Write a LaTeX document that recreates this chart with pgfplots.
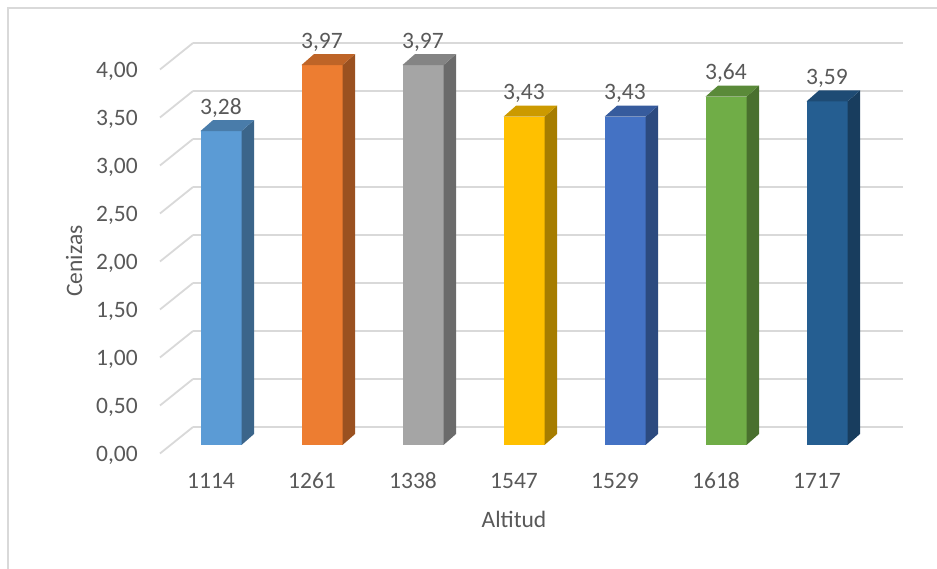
\documentclass[border=0pt]{standalone}
\usepackage{pgfplots}
\pgfplotsset{compat=1.18}
\usepackage{fontspec}
\setmainfont{Carlito}
\definecolor{txt}{HTML}{595959}
\definecolor{gridc}{HTML}{D9D9D9}
\definecolor{c1}{HTML}{5B9BD5}
\definecolor{c2}{HTML}{ED7D31}
\definecolor{c3}{HTML}{A5A5A5}
\definecolor{c4}{HTML}{FFC000}
\definecolor{c5}{HTML}{4472C4}
\definecolor{c6}{HTML}{70AD47}
\definecolor{c7}{HTML}{255E91}
\newcommand{\lbl}{\fontsize{23.5pt}{28pt}\selectfont\color{txt}}
% index, value, colour
\newcommand{\barthreed}[3]{%
  \pgfmathsetmacro\xl{#1-0.203}%
  \pgfmathsetmacro\xr{#1+0.203}%
  \pgfmathsetmacro\xlb{#1-0.203+0.124}%
  \pgfmathsetmacro\xrb{#1+0.203+0.124}%
  \pgfmathsetmacro\vb{#2+0.115}%
  \addplot[ybar, bar width=41pt, bar shift=0pt, fill=#3, draw=none,
    nodes near coords={\pgfmathprintnumber[fixed,fixed zerofill,precision=2,use comma,assume math mode=true]{\pgfplotspointmeta}},
    every node near coord/.append style={anchor=base, inner sep=0pt, yshift=17pt, font=\lbl}]
    coordinates {(#1,#2)};
  \addplot[fill=#3!65!black, draw=none] coordinates {(\xr,0) (\xrb,0.115) (\xrb,\vb) (\xr,#2)} -- cycle;
  \addplot[fill=#3!80!black, draw=none] coordinates {(\xl,#2) (\xr,#2) (\xrb,\vb) (\xlb,\vb)} -- cycle;
}
\begin{document}
\begin{tikzpicture}
\useasboundingbox (0,0) rectangle (937pt,569pt);
\fill[white] (0,0) rectangle (937pt,569pt);
\draw[gridc, line width=1.8pt] (8pt,0) -- (8pt,561pt) -- (937pt,561pt);
% back wall with grid
\begin{axis}[
  at={(193pt,142pt)}, anchor=south west, scale only axis,
  width=710pt, height=384pt,
  xmin=0, xmax=1, ymin=0, ymax=4,
  xtick=\empty, ytick={0,0.5,...,4},
  ymajorgrids, grid style={draw=gridc, line width=1.8pt},
  axis line style={draw=none}, major tick style={draw=none},
  clip=false,
  yticklabel style={anchor=base east, inner sep=0pt, xshift=-55pt, yshift=-35pt, font=\lbl,
    /pgf/number format/.cd, fixed, fixed zerofill, precision=2, use comma, assume math mode=true},
]
\addplot[draw=none] coordinates {(0,0)};
\pgfplotsinvokeforeach{0,0.5,1,1.5,2,2.5,3,3.5,4}{
  \draw[draw=gridc, line width=1.8pt] (axis cs:0,#1) -- ++(-33pt,-26.5pt);
}
\end{axis}
% bars
\begin{axis}[
  at={(120pt,124pt)}, anchor=south west,
  x=101pt, y=95.7pt,
  xmin=-1, xmax=7, ymin=0, ymax=4.5,
  clip=false,
  axis line style={draw=none}, major tick style={draw=none},
  ytick=\empty, xtick={0,1,2,3,4,5,6},
  xticklabels={1114,1261,1338,1547,1529,1618,1717},
  xticklabel style={anchor=base, inner sep=0pt, yshift=-44pt, xshift=-10pt, font=\lbl},
]
\barthreed{0}{3.28}{c1}
\barthreed{1}{3.97}{c2}
\barthreed{2}{3.97}{c3}
\barthreed{3}{3.43}{c4}
\barthreed{4}{3.43}{c5}
\barthreed{5}{3.64}{c6}
\barthreed{6}{3.59}{c7}
\end{axis}
\node[rotate=90, anchor=base, font=\lbl] at (82pt,308pt) {Cenizas};
\node[anchor=base, font=\lbl] at (514pt,41pt) {Altitud};
\end{tikzpicture}
\end{document}
